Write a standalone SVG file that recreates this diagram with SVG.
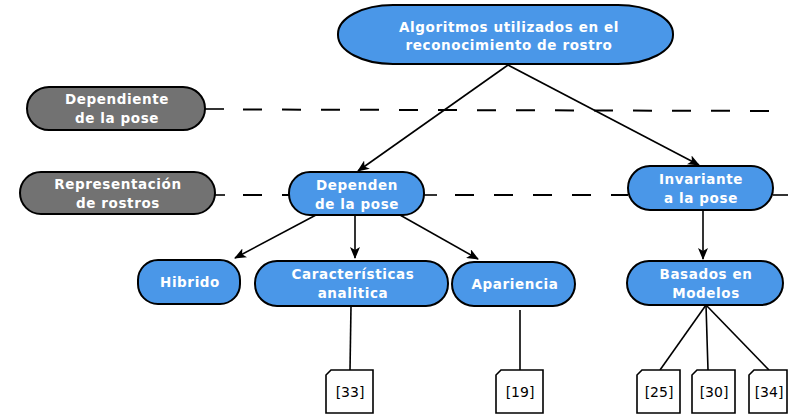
<svg xmlns="http://www.w3.org/2000/svg" width="788" height="417" viewBox="0 0 788 417">
<defs>
<marker id="arr" markerWidth="12" markerHeight="10" refX="11" refY="5" orient="auto" markerUnits="userSpaceOnUse">
<path d="M0,0 L12,5 L0,10 L3,5 Z" fill="#000"/>
</marker>
<style>
.b{fill:#4a97e8;stroke:#000;stroke-width:2}
.g{fill:#727272;stroke:#000;stroke-width:2}
.t{font-family:"DejaVu Sans",sans-serif;font-weight:bold;font-size:13.5px;letter-spacing:0.6px;fill:#fff;text-anchor:middle}
.r{font-family:"DejaVu Sans",sans-serif;font-size:14px;fill:#000;text-anchor:middle}
.c{stroke:#000;stroke-width:1.6;fill:none}
.d{stroke:#000;stroke-width:2;fill:none;stroke-dasharray:19 20}
.a{stroke:#000;stroke-width:1.6;fill:none;marker-end:url(#arr)}
.doc{fill:#fff;stroke:#000;stroke-width:1.6}
</style>
</defs>
<g id="connectors">
<path class="c" d="M205,109 H224"/>
<path class="d" d="M243,109.5 L788,111"/>
<path class="c" d="M215,195 H225"/>
<path class="d" d="M243,195 H289"/>
<path class="c" d="M424,195 H437"/>
<path class="d" d="M455,195 H628"/>
<path class="c" d="M773,195 H788"/>
<path class="a" d="M508,65 L358,171"/>
<path class="a" d="M508,65 L699,165"/>
<path class="a" d="M316,215 L235,258"/>
<path class="a" d="M355,215 L355,258"/>
<path class="a" d="M400,215 L478,259"/>
<path class="a" d="M703,210 L703,259"/>
<path class="c" d="M351,306 L350,370"/>
<path class="c" d="M520,310 L520,370"/>
<path class="c" d="M706,305 L660,370"/>
<path class="c" d="M706,305 L708,370"/>
<path class="c" d="M706,305 L769,370"/>
</g>
<g id="n-root"><rect class="b" x="338" y="5" width="335" height="59" rx="55" ry="29"/><text class="t" x="509" y="32">Algoritmos utilizados en el</text><text class="t" x="509" y="50">reconocimiento de rostro</text></g>
<g id="n-dependiente"><rect class="g" x="27" y="87" width="178" height="43" rx="22"/><text class="t" x="117" y="104">Dependiente</text><text class="t" x="117" y="123">de la pose</text></g>
<g id="n-representacion"><rect class="g" x="20" y="172" width="195" height="42" rx="21"/><text class="t" x="118" y="189">Representación</text><text class="t" x="118" y="208">de rostros</text></g>
<g id="n-dependen"><rect class="b" x="289" y="172" width="135" height="43" rx="21"/><text class="t" x="357" y="190">Dependen</text><text class="t" x="357" y="209">de la pose</text></g>
<g id="n-invariante"><rect class="b" x="628" y="166" width="145" height="44" rx="22"/><text class="t" x="701" y="184">Invariante</text><text class="t" x="701" y="203">a la pose</text></g>
<g id="n-hibrido"><rect class="b" x="138" y="260" width="102" height="44" rx="20"/><text class="t" x="190" y="287">Hibrido</text></g>
<g id="n-caracteristicas"><rect class="b" x="255" y="261" width="193" height="45" rx="22"/><text class="t" x="353" y="279">Características</text><text class="t" x="353" y="298">analitica</text></g>
<g id="n-apariencia"><rect class="b" x="452" y="262" width="123" height="44" rx="22"/><text class="t" x="515" y="289">Apariencia</text></g>
<g id="n-basados"><rect class="b" x="627" y="261" width="156" height="44" rx="22"/><text class="t" x="706" y="279">Basados en</text><text class="t" x="706" y="298">Modelos</text></g>
<g id="n-33"><path class="doc" d="M331,370 H373 V413 H326 V375 Z"/><text class="r" x="350" y="397">[33]</text></g>
<g id="n-19"><path class="doc" d="M501,370 H543 V413 H496 V375 Z"/><text class="r" x="520" y="397">[19]</text></g>
<g id="n-25"><path class="doc" d="M642,370 H680 V413 H637 V375 Z"/><text class="r" x="659" y="397">[25]</text></g>
<g id="n-30"><path class="doc" d="M697,370 H735 V413 H692 V375 Z"/><text class="r" x="714" y="397">[30]</text></g>
<g id="n-34"><path class="doc" d="M754,370 H787 V413 H749 V375 Z"/><text class="r" x="769" y="397">[34]</text></g>
</svg>
